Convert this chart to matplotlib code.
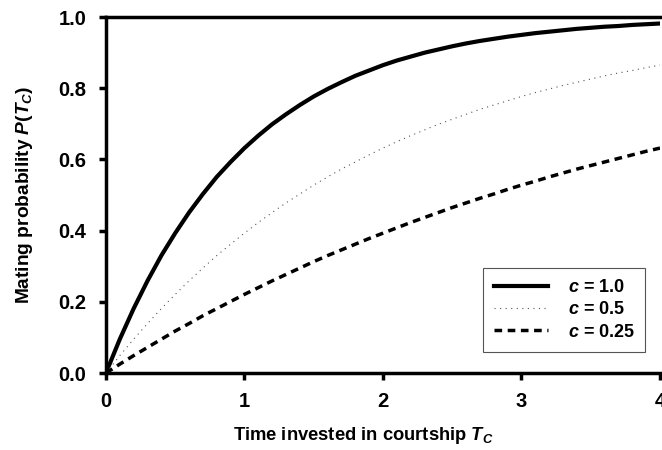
import matplotlib
matplotlib.use('Agg')
import matplotlib.pyplot as plt

plt.rcParams['font.family'] = ['Liberation Sans', 'DejaVu Sans']
plt.rcParams['font.weight'] = 'bold'
plt.rcParams['mathtext.fontset'] = 'custom'
plt.rcParams['mathtext.it'] = 'Liberation Sans:bold:italic'
plt.rcParams['mathtext.rm'] = 'Liberation Sans:bold'
plt.rcParams['mathtext.default'] = 'it'

# values, every 0.1 along the time axis
t = [i / 10 for i in range(41)]
p_c100 = [0, .095, .181, .259, .330, .393, .451, .503, .551, .593, .632,
          .667, .699, .727, .753, .777, .798, .817, .835, .850, .865,
          .878, .889, .900, .909, .918, .926, .933, .939, .945, .950,
          .955, .959, .963, .967, .970, .973, .975, .978, .980, .982]
p_c050 = [0, .049, .095, .139, .181, .221, .259, .295, .330, .362, .393,
          .423, .451, .478, .503, .528, .551, .573, .593, .613, .632,
          .650, .667, .683, .699, .713, .727, .741, .753, .765, .777,
          .788, .798, .808, .817, .826, .835, .843, .850, .858, .865]
p_c025 = [0, .025, .049, .072, .095, .118, .139, .161, .181, .201, .221,
          .240, .259, .277, .295, .313, .330, .346, .362, .378, .393,
          .408, .423, .437, .451, .465, .478, .491, .503, .516, .528,
          .539, .551, .562, .573, .583, .593, .603, .613, .623, .632]

xticks = [0, 1, 2, 3, 4]
yticks = [0.0, 0.2, 0.4, 0.6, 0.8, 1.0]

fig = plt.figure(figsize=(6.62, 4.5), dpi=100)
ax = fig.add_axes([0.160, 0.171, 0.837, 0.791])

ax.plot(t, p_c100, color='black', lw=3, label=r'$c$ = 1.0')
ax.plot(t, p_c050, color='#555555', lw=0.8, ls=(0, (1, 4)), label=r'$c$ = 0.5')
ax.plot(t, p_c025, color='black', lw=2.5, ls=(0, (2.2, 1.6)), label=r'$c$ = 0.25')

ax.set_xlim(0, 4)
ax.set_ylim(0, 1)
ax.set_xticks(xticks)
ax.set_yticks(yticks)
ax.set_xticklabels([str(v) for v in xticks], fontsize=14.5, fontweight='bold')
ax.set_yticklabels(['%.1f' % v for v in yticks], fontsize=14.5, fontweight='bold')
ax.tick_params(direction='out', width=2.5, length=5, pad=9)
for s in ['left', 'bottom', 'top']:
    ax.spines[s].set_linewidth(2.5)
ax.spines['right'].set_visible(False)

ax.set_xlabel(r'Time invested in courtship $T_C$', fontsize=13.2,
              fontweight='bold')
ax.xaxis.set_label_coords(0.464, -0.145)
ax.set_ylabel(r'Mating probability $P(T_C)$', fontsize=13.8,
              fontweight='bold')
ax.yaxis.set_label_coords(-0.128, 0.5)

leg = ax.legend(loc='lower right', bbox_to_anchor=(0.99, 0.035),
                prop={'size': 13, 'weight': 'bold'},
                fancybox=False, framealpha=1, edgecolor='#555555',
                handlelength=3.0, handletextpad=1.1, borderpad=0.6,
                labelspacing=0.3)
leg.get_frame().set_linewidth(0.8)

fig.savefig('out.png', dpi=100)
